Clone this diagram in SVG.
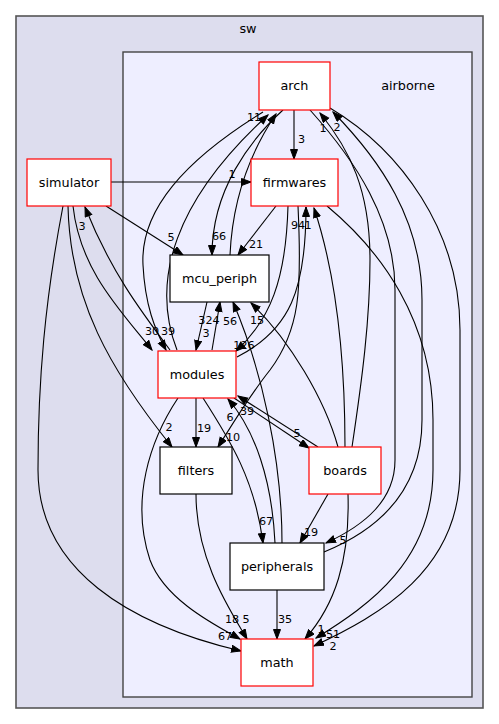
<svg xmlns="http://www.w3.org/2000/svg" width="499" height="724" viewBox="0 0 499 724">
<style>
text{font-family:"DejaVu Sans","Noto Sans",sans-serif;fill:#000}
.n{font-size:12.8px;text-anchor:middle}
.l{font-size:11.2px;text-anchor:middle}
.red{fill:#fff;stroke:#ff0000;stroke-width:1.2}
.blk{fill:#fff;stroke:#000;stroke-width:1.2}
.e{fill:none;stroke:#000;stroke-width:1.1;marker-end:url(#ah)}
</style>
<defs>
<marker id="ah" markerUnits="userSpaceOnUse" markerWidth="11" markerHeight="9" refX="10" refY="4" orient="auto">
<path d="M0.5,0.5 L10,4 L0.5,7.5 Z" fill="#000" stroke="#000" stroke-width="1"/>
</marker>
</defs>
<g id="cluster-sw">
<rect x="16" y="16" width="467" height="692" fill="#ddddee" stroke="#555" stroke-width="1.6"/>
<text class="n" x="248" y="33">sw</text>
</g>
<g id="cluster-airborne">
<rect x="123" y="52" width="349" height="645" fill="#eeeeff" stroke="#444" stroke-width="1.4"/>
<text class="n" x="408" y="90">airborne</text>
</g>
<g id="edges">
<path class="e" d="M294,110 L294,159"/>
<path class="e" d="M111,182 L251,182"/>
<path class="e" d="M106,206 L183,255"/>
<path class="e" d="M283,110 C250,140 212,190 212,255"/>
<path class="e" d="M230,255 C232,210 245,160 276,114"/>
<path class="e" d="M177,350 C150,280 175,200 268,115"/>
<path class="e" d="M263,112 C185,160 140,210 143,265 C145,305 155,330 166,350"/>
<path class="e" d="M73,206 C80,270 120,310 152,350"/>
<path class="e" d="M170,350 C140,310 110,270 85,207"/>
<path class="e" d="M68,206 C70,300 110,370 172,447"/>
<path class="e" d="M63,206 C45,300 38,380 38,470 C38,570 130,625 241,651"/>
<path class="e" d="M276,206 L238,255"/>
<path class="e" d="M288,206 C286,280 270,320 236,351"/>
<path class="e" d="M237,357 C290,330 306,290 306,207"/>
<path class="e" d="M345,447 C345,370 338,280 314,208"/>
<path class="e" d="M298,206 C302,290 300,330 270,370 C250,395 232,425 218,447"/>
<path class="e" d="M327,206 C380,250 433,320 433,420 L433,470 C433,560 370,605 316,638"/>
<path class="e" d="M330,108 C400,150 460,230 460,330 L460,470 C460,570 380,615 314,646"/>
<path class="e" d="M324,552 C390,525 422,480 422,420 L422,300 C422,220 380,160 333,112"/>
<path class="e" d="M310,110 C355,160 395,220 395,290 L395,460 C395,500 365,525 326,543"/>
<path class="e" d="M352,447 C362,380 370,320 370,260 C370,190 350,150 320,113"/>
<path class="e" d="M338,447 C325,400 290,340 251,303"/>
<path class="e" d="M234,398 L309,448"/>
<path class="e" d="M318,447 L238,396"/>
<path class="e" d="M328,494 L300,543"/>
<path class="e" d="M348,494 C350,560 335,605 305,639"/>
<path class="e" d="M277,590 L277,639"/>
<path class="e" d="M196,494 C196,560 230,610 247,639"/>
<path class="e" d="M178,398 C150,440 130,500 150,560 C165,600 215,625 240,639"/>
<path class="e" d="M196,398 L196,447"/>
<path class="e" d="M203,398 C230,440 255,480 263,543"/>
<path class="e" d="M282,543 C282,460 262,370 233,302"/>
<path class="e" d="M212,350 L220,302"/>
<path class="e" d="M207,302 L196,350"/>
<path class="e" d="M275,543 C272,480 255,430 228,399"/>
</g>
<g id="node-arch"><rect class="red" x="259" y="62" width="71" height="48"/><text class="n" x="294.5" y="90">arch</text></g>
<g id="node-simulator"><rect class="red" x="27" y="159" width="84" height="47"/><text class="n" x="69" y="187">simulator</text></g>
<g id="node-firmwares"><rect class="red" x="251" y="159" width="87" height="47"/><text class="n" x="294.5" y="187">firmwares</text></g>
<g id="node-mcu_periph"><rect class="blk" x="170" y="255" width="99" height="47"/><text class="n" x="219.5" y="283">mcu_periph</text></g>
<g id="node-modules"><rect class="red" x="158" y="351" width="78" height="47"/><text class="n" x="197" y="379">modules</text></g>
<g id="node-filters"><rect class="blk" x="160" y="447" width="72" height="47"/><text class="n" x="196" y="475">filters</text></g>
<g id="node-boards"><rect class="red" x="309" y="447" width="72" height="47"/><text class="n" x="345" y="475">boards</text></g>
<g id="node-peripherals"><rect class="blk" x="230" y="543" width="94" height="47"/><text class="n" x="277" y="571">peripherals</text></g>
<g id="node-math"><rect class="red" x="241" y="639" width="72" height="47"/><text class="n" x="277" y="667">math</text></g>
<g id="edge-labels">
<text class="l" x="301.5" y="143">3</text>
<text class="l" x="232" y="178">1</text>
<text class="l" x="254" y="121">11</text>
<text class="l" x="323" y="132">1</text>
<text class="l" x="337" y="131">2</text>
<text class="l" x="171" y="241">5</text>
<text class="l" x="219" y="240">66</text>
<text class="l" x="256" y="248">21</text>
<text class="l" x="298" y="229">94</text>
<text class="l" x="308" y="229">1</text>
<text class="l" x="82" y="230">3</text>
<text class="l" x="152" y="335">30</text>
<text class="l" x="168" y="335">39</text>
<text class="l" x="209" y="324">324</text>
<text class="l" x="230" y="325">56</text>
<text class="l" x="206" y="337">3</text>
<text class="l" x="257" y="324">15</text>
<text class="l" x="244" y="349">126</text>
<text class="l" x="169" y="431">2</text>
<text class="l" x="204" y="432">19</text>
<text class="l" x="233" y="441">10</text>
<text class="l" x="230" y="421">6</text>
<text class="l" x="247" y="415">39</text>
<text class="l" x="297" y="437">5</text>
<text class="l" x="266" y="525">67</text>
<text class="l" x="311" y="536">19</text>
<text class="l" x="343" y="544">5</text>
<text class="l" x="232" y="623">18</text>
<text class="l" x="246" y="623">5</text>
<text class="l" x="285" y="623">35</text>
<text class="l" x="225" y="640">67</text>
<text class="l" x="321" y="633">1</text>
<text class="l" x="333" y="638">51</text>
<text class="l" x="333" y="650">2</text>
</g>
</svg>
